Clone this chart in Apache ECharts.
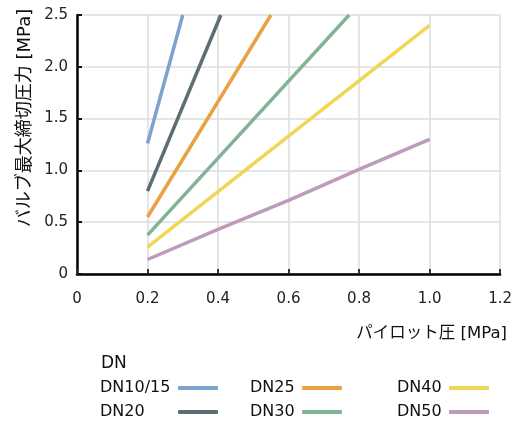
<!DOCTYPE html>
<html>
<head>
<meta charset="utf-8">
<script src="https://cdn.jsdelivr.net/npm/echarts@6/dist/echarts.min.js"></script>
<style>
html,body{margin:0;padding:0;background:#fff;}
#c{width:515px;height:421px;}
</style>
</head>
<body>
<div id="c"></div>
<script>
// ---- data ----
const seriesNames = ['DN10/15', 'DN20', 'DN25', 'DN30', 'DN40', 'DN50'];
const dn1015 = [[0.2, 1.26], [0.3, 2.5]];
const dn20   = [[0.2, 0.80], [0.408, 2.5]];
const dn25   = [[0.2, 0.55], [0.55, 2.5]];
const dn30   = [[0.2, 0.375], [0.772, 2.5]];
const dn40   = [[0.2, 0.26], [0.6, 1.33], [1.0, 2.40]];
const dn50   = [[0.2, 0.14], [0.4, 0.43], [0.6, 0.71], [0.8, 1.01], [1.0, 1.30]];
const xTickLabels = ['0', '0.2', '0.4', '0.6', '0.8', '1.0', '1.2'];
const yTickLabels = ['0', '0.5', '1.0', '1.5', '2.0', '2.5'];
const xAxisTitle = 'パイロット圧 [MPa]';
const yAxisTitle = 'バルブ最大締切圧力 [MPa]';
const legendTitle = 'DN';

const seriesData = [dn1015, dn20, dn25, dn30, dn40, dn50];
const colors = ['#7ca2cf', '#5e6d72', '#e9a241', '#81b497', '#efd755', '#bd9bbb'];

const FONT = "'DejaVu Sans', 'Noto Sans CJK JP', sans-serif";
const chart = echarts.init(document.getElementById('c'), null, {renderer: 'canvas'});

function legendFor(names, left, w) {
  return {
    orient: 'vertical',
    left: left,
    top: 380,
    padding: 0,
    align: 'right',
    icon: 'roundRect',
    itemWidth: 40,
    itemHeight: 4,
    itemGap: 8,
    selectedMode: false,
    data: names,
    formatter: '{a|{name}}',
    textStyle: {
      fontFamily: FONT,
      fontSize: 16,
      color: '#111',
      rich: { a: { width: w, align: 'left', fontFamily: FONT, fontSize: 16, color: '#111', lineHeight: 16 } }
    }
  };
}

const option = {
  animation: false,
  backgroundColor: '#fff',
  color: colors,
  grid: { left: 77, right: 12, top: 15, bottom: 147, containLabel: false },
  title: {
    text: legendTitle,
    left: 101,
    top: 355,
    padding: 0,
    textStyle: { fontFamily: FONT, fontSize: 17, fontWeight: 'normal', color: '#111' }
  },
  legend: [
    legendFor(['DN10/15', 'DN20'], 100, 73),
    legendFor(['DN25', 'DN30'], 250, 47),
    legendFor(['DN40', 'DN50'], 397, 47)
  ],
  xAxis: {
    type: 'value',
    min: 0, max: 1.2, interval: 0.2,
    axisLine: { show: true, onZero: false, lineStyle: { color: '#000', width: 2.5 } },
    axisTick: { show: true, inside: true, length: 5, lineStyle: { color: '#333', width: 2 } },
    axisLabel: {
      margin: 18, fontFamily: FONT, fontSize: 15, color: '#222',
      formatter: function (v) { return xTickLabels[Math.round(v / 0.2)]; }
    },
    splitLine: { show: true, lineStyle: { color: '#dcdcdc', width: 1.5 } }
  },
  yAxis: {
    type: 'value',
    min: 0, max: 2.5, interval: 0.5,
    axisLine: { show: true, onZero: false, lineStyle: { color: '#000', width: 2.5 } },
    axisTick: { show: true, inside: true, length: 5, lineStyle: { color: '#111', width: 2 } },
    axisLabel: {
      margin: 9, fontFamily: FONT, fontSize: 15, color: '#222',
      formatter: function (v) { return yTickLabels[Math.round(v / 0.5)]; }
    },
    splitLine: { show: true, lineStyle: { color: '#dcdcdc', width: 1.5 } }
  },
  graphic: [
    {
      type: 'text',
      x: 25, y: 118,
      rotation: Math.PI / 2,
      style: {
        text: yAxisTitle,
        fontFamily: FONT, fontSize: 18, fill: '#111',
        textAlign: 'center', textVerticalAlign: 'middle'
      }
    },
    {
      type: 'text',
      x: 507, y: 334,
      style: {
        text: xAxisTitle,
        fontFamily: FONT, fontSize: 16.5, fill: '#111',
        textAlign: 'right', textVerticalAlign: 'middle'
      }
    }
  ],
  series: seriesNames.map(function (n, i) {
    return {
      name: n,
      type: 'line',
      data: seriesData[i],
      symbol: 'none',
      clip: true,
      lineStyle: { width: 3.5, color: colors[i], cap: 'butt' },
      itemStyle: { color: colors[i] },
      z: 3
    };
  })
};
chart.setOption(option);
</script>
</body>
</html>
